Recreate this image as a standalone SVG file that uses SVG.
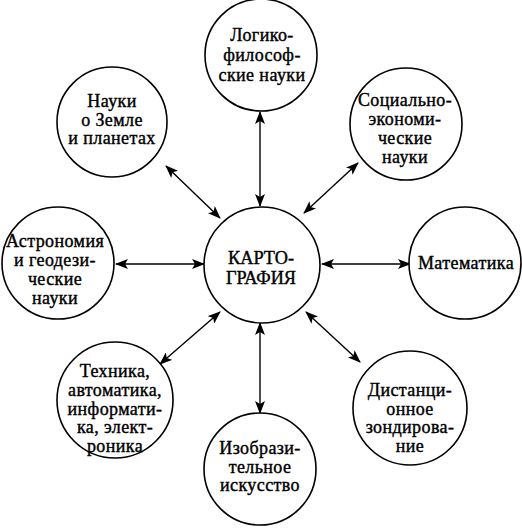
<svg xmlns="http://www.w3.org/2000/svg" width="522" height="528" viewBox="0 0 522 528">
<style>
.c{fill:#fff;stroke:#000;stroke-width:1.6}
.t{font-family:"Liberation Serif","Times New Roman",serif;font-size:18px;letter-spacing:0.4px;fill:#000;text-anchor:middle;stroke:#000;stroke-width:0.4}
.big{font-size:19px;letter-spacing:0}
.l{stroke:#000;stroke-width:1.4;fill:none;marker-start:url(#a);marker-end:url(#a)}
</style>
<defs>
<marker id="a" viewBox="0 0 13 10" refX="12" refY="5" markerWidth="13" markerHeight="10" markerUnits="userSpaceOnUse" orient="auto-start-reverse">
<path d="M0,0 L13,5 L0,10 L3,5 Z" fill="#000"/>
</marker>
</defs>
<rect width="522" height="528" fill="#fff"/>
<g id="connectors">
<line class="l" x1="260" y1="112" x2="260" y2="206"/>
<line class="l" x1="358" y1="163" x2="304" y2="213"/>
<line class="l" x1="166" y1="166" x2="220" y2="218"/>
<line class="l" x1="116" y1="264" x2="204" y2="264"/>
<line class="l" x1="322" y1="264" x2="410" y2="264"/>
<line class="l" x1="160" y1="364" x2="220" y2="312"/>
<line class="l" x1="306" y1="312" x2="360" y2="362"/>
<line class="l" x1="260" y1="323" x2="260" y2="413"/>
</g>
<g id="center">
<circle class="c" cx="262" cy="265" r="58"/>
<text class="t big" x="261" y="264" textLength="66" lengthAdjust="spacingAndGlyphs">КАРТО-</text>
<text class="t big" x="261" y="284" textLength="70" lengthAdjust="spacingAndGlyphs">ГРАФИЯ</text>
</g>
<g id="logic">
<circle class="c" cx="261" cy="55" r="56"/>
<text class="t" x="262" y="41">Логико-</text>
<text class="t" x="262" y="61">философ-</text>
<text class="t" x="262" y="81">ские науки</text>
</g>
<g id="social">
<circle class="c" cx="406" cy="124" r="56"/>
<text class="t" x="405" y="106">Социально-</text>
<text class="t" x="405" y="125">экономи-</text>
<text class="t" x="405" y="144">ческие</text>
<text class="t" x="405" y="163">науки</text>
</g>
<g id="earth">
<circle class="c" cx="112" cy="122" r="55"/>
<text class="t" x="112" y="107">Науки</text>
<text class="t" x="112" y="125.5">о Земле</text>
<text class="t" x="112" y="144">и планетах</text>
</g>
<g id="astro">
<circle class="c" cx="58" cy="263" r="56"/>
<text class="t" x="55" y="247">Астрономия</text>
<text class="t" x="55" y="266">и геодези-</text>
<text class="t" x="55" y="285">ческие</text>
<text class="t" x="55" y="304">науки</text>
</g>
<g id="math">
<circle class="c" cx="465" cy="263" r="56"/>
<text class="t" x="466" y="269">Математика</text>
</g>
<g id="tech">
<circle class="c" cx="115" cy="400" r="58"/>
<text class="t" x="115" y="377">Техника,</text>
<text class="t" x="115" y="396">автоматика,</text>
<text class="t" x="115" y="414.5">информати-</text>
<text class="t" x="115" y="433">ка, элект-</text>
<text class="t" x="115" y="451.5">роника</text>
</g>
<g id="remote">
<circle class="c" cx="410" cy="408" r="57"/>
<text class="t" x="410" y="396">Дистанци-</text>
<text class="t" x="410" y="414.5">онное</text>
<text class="t" x="410" y="433">зондирова-</text>
<text class="t" x="410" y="451.5">ние</text>
</g>
<g id="art">
<circle class="c" cx="260" cy="469" r="56"/>
<text class="t" x="260" y="454">Изобрази-</text>
<text class="t" x="260" y="472.5">тельное</text>
<text class="t" x="260" y="491">искусство</text>
</g>
</svg>
